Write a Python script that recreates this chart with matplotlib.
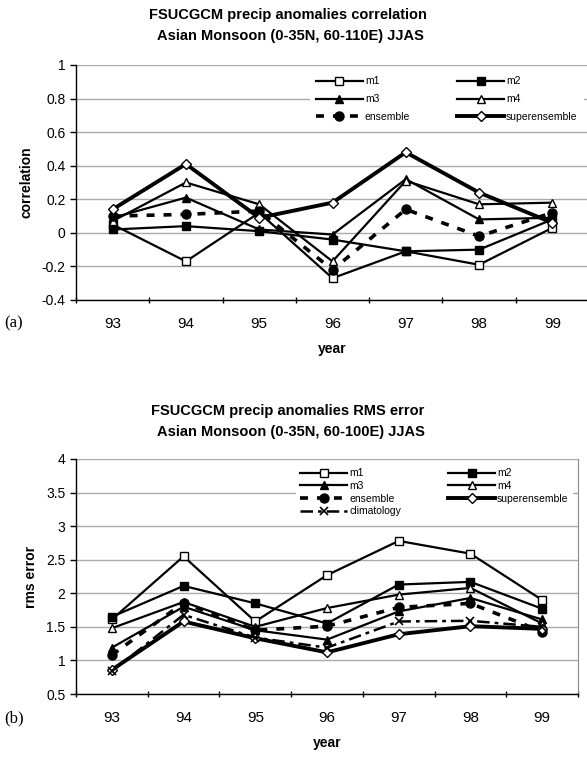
import numpy as np
import matplotlib
matplotlib.use("Agg")
import matplotlib.pyplot as plt

plt.rcParams['font.family'] = ['Liberation Sans', 'DejaVu Sans']

years = ['93', '94', '95', '96', '97', '98', '99']

# (a) correlation
corr_m1 = [0.05, -0.17, 0.12, -0.27, -0.11, -0.19, 0.03]
corr_m2 = [0.02, 0.04, 0.01, -0.04, -0.11, -0.10, 0.08]
corr_m3 = [0.09, 0.21, 0.02, -0.01, 0.32, 0.08, 0.09]
corr_m4 = [0.07, 0.30, 0.17, -0.17, 0.31, 0.17, 0.18]
corr_ens = [0.10, 0.11, 0.13, -0.22, 0.14, -0.02, 0.12]
corr_sup = [0.14, 0.41, 0.09, 0.18, 0.48, 0.24, 0.06]

# (b) rms error
rms_m1 = [1.61, 2.55, 1.58, 2.27, 2.78, 2.59, 1.90]
rms_m2 = [1.65, 2.11, 1.85, 1.55, 2.13, 2.17, 1.77]
rms_m3 = [1.19, 1.80, 1.45, 1.31, 1.73, 1.93, 1.61]
rms_m4 = [1.48, 1.87, 1.50, 1.78, 1.98, 2.08, 1.55]
rms_ens = [1.08, 1.86, 1.45, 1.51, 1.79, 1.85, 1.43]
rms_sup = [0.86, 1.58, 1.33, 1.12, 1.39, 1.51, 1.47]
rms_clim = [0.84, 1.68, 1.34, 1.19, 1.58, 1.59, 1.50]

W, H = 587, 759
fig = plt.figure(figsize=(W / 100, H / 100), dpi=100)

def ax_rect(left, top, right, bottom):
    return [left / W, 1 - bottom / H, (right - left) / W, (bottom - top) / H]

x = np.arange(len(years))

styles = {
    'm1': dict(color='black', lw=1.6, marker='s', ms=5.5, mfc='white', mec='black', mew=1.0),
    'm2': dict(color='black', lw=1.6, marker='s', ms=5.5, mfc='black', mec='black'),
    'm3': dict(color='black', lw=1.6, marker='^', ms=6, mfc='black', mec='black'),
    'm4': dict(color='black', lw=1.6, marker='^', ms=6, mfc='white', mec='black', mew=1.0),
    'ensemble': dict(color='black', lw=2.6, ls=(0, (2.2, 2.5)), marker='o', ms=6.5, mfc='black', mec='black'),
    'superensemble': dict(color='black', lw=2.8, marker='D', ms=5, mfc='white', mec='black', mew=1.0),
    'climatology': dict(color='black', lw=1.8, ls=(0, (5, 2, 1.5, 2)), marker='x', ms=6, mec='black', mew=1.2),
}

def setup(ax, ymin, ymax, step, ylabel):
    ax.set_xlim(-0.5, len(years) - 0.5)
    ax.set_ylim(ymin, ymax)
    ticks = np.round(np.arange(ymin, ymax + step / 2, step), 2)
    ax.set_yticks(ticks)
    ax.set_yticklabels([f'{t:g}' for t in ticks], fontsize=10)
    ax.set_xticks(x)
    ax.set_xticklabels(years, fontsize=11)
    ax.set_xticks(np.arange(-0.5, len(years) + 0.5, 1), minor=True)
    ax.tick_params(axis='x', which='major', length=0, pad=12)
    ax.tick_params(axis='x', which='minor', length=5, width=1, direction='inout')
    ax.tick_params(axis='y', length=4, width=1, direction='out')
    ax.grid(axis='y', color='#aaaaaa', lw=1.0)
    ax.set_axisbelow(True)
    for s in ['top']:
        ax.spines[s].set_visible(False)
    ax.spines['left'].set_linewidth(1.0)
    ax.spines['bottom'].set_linewidth(1.0)
    ax.set_xlabel('year', fontsize=10, fontweight='bold', labelpad=8)
    ax.set_ylabel(ylabel, fontsize=10, fontweight='bold', labelpad=6)

# ---- (a) ----
ax1 = fig.add_axes(ax_rect(76, 65, 589, 300))
series_a = [('m1', corr_m1), ('m2', corr_m2), ('m3', corr_m3), ('m4', corr_m4),
            ('ensemble', corr_ens), ('superensemble', corr_sup)]
lines_a = {}
for name, vals in series_a:
    lines_a[name], = ax1.plot(x, vals, label=name, **styles[name])
setup(ax1, -0.4, 1.0, 0.2, 'correlation')
ax1.spines['right'].set_visible(False)
order_a = ['m1', 'm3', 'ensemble', 'm2', 'm4', 'superensemble']
leg1 = ax1.legend([lines_a[n] for n in order_a], order_a, ncol=2, fontsize=7.5,
                  loc='upper right', bbox_to_anchor=(1.0, 1.0),
                  frameon=True, fancybox=False, edgecolor='none', framealpha=1,
                  handlelength=4.5, columnspacing=4.5, handletextpad=0.2,
                  labelspacing=0.75, borderpad=0.6)
fig.text(0.49, 1 - 15 / H, 'FSUCGCM precip anomalies correlation', ha='center', va='center',
         fontsize=10.5, fontweight='bold')
fig.text(0.495, 1 - 36 / H, 'Asian Monsoon (0-35N, 60-110E) JJAS', ha='center', va='center',
         fontsize=10.5, fontweight='bold')
fig.text(4 / W, 1 - 323 / H, '(a)', ha='left', va='center', fontsize=12,
         family=['Liberation Serif', 'DejaVu Serif'])

# ---- (b) ----
ax2 = fig.add_axes(ax_rect(76, 459, 578, 694))
series_b = [('m1', rms_m1), ('m2', rms_m2), ('m3', rms_m3), ('m4', rms_m4),
            ('ensemble', rms_ens), ('superensemble', rms_sup), ('climatology', rms_clim)]
lines_b = {}
for name, vals in series_b:
    lines_b[name], = ax2.plot(x, vals, label=name, **styles[name])
setup(ax2, 0.5, 4.0, 0.5, 'rms error')
ax2.spines['right'].set_color('#888888')
order_b = ['m1', 'm3', 'ensemble', 'climatology', 'm2', 'm4', 'superensemble']
leg2 = ax2.legend([lines_b[n] for n in order_b], order_b, ncol=2, fontsize=7.5,
                  loc='upper right', bbox_to_anchor=(1.0, 1.0),
                  frameon=True, fancybox=False, edgecolor='none', framealpha=1,
                  handlelength=4.5, columnspacing=4.5, handletextpad=0.2,
                  labelspacing=0.25, borderpad=0.4)
fig.text(0.49, 1 - 411 / H, 'FSUCGCM precip anomalies RMS error', ha='center', va='center',
         fontsize=10.5, fontweight='bold')
fig.text(0.495, 1 - 432 / H, 'Asian Monsoon (0-35N, 60-100E) JJAS', ha='center', va='center',
         fontsize=10.5, fontweight='bold')
fig.text(4 / W, 1 - 718 / H, '(b)', ha='left', va='center', fontsize=12,
         family=['Liberation Serif', 'DejaVu Serif'])

fig.savefig('out.png', dpi=100, facecolor='white')
